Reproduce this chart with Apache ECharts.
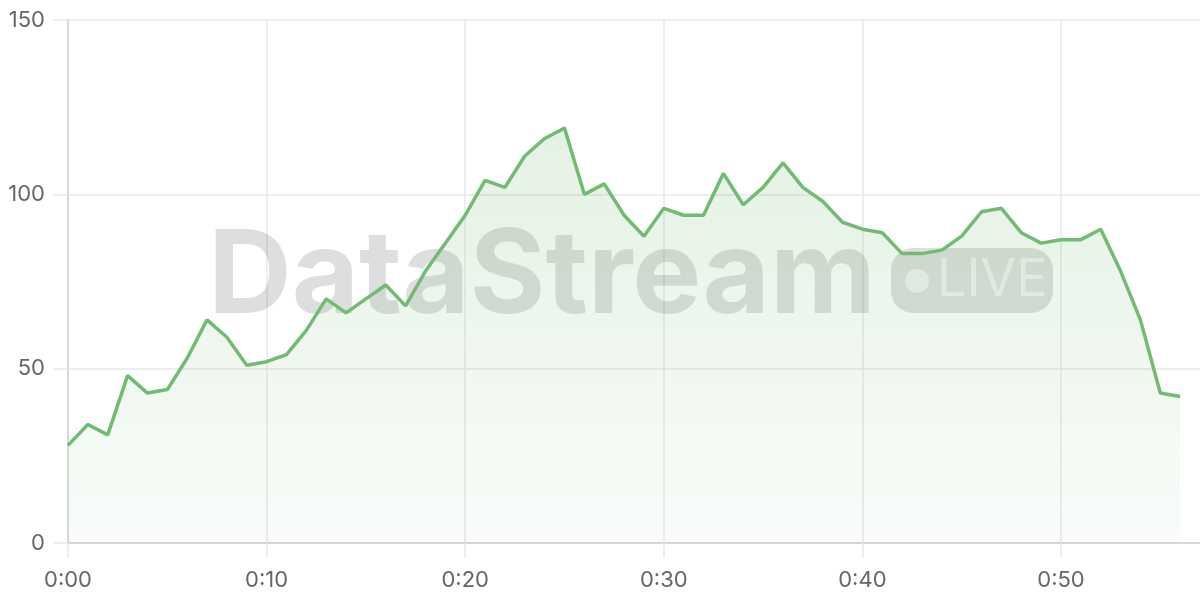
<!DOCTYPE html>
<html>
<head>
<meta charset="utf-8">
<script src="https://cdn.jsdelivr.net/npm/echarts@6/dist/echarts.min.js"></script>
<style>
html,body{margin:0;padding:0;background:#fff;}
#chart{width:1200px;height:600px;}
</style>
</head>
<body>
<div id="chart"></div>
<script>
var minutes = [];
for (var i = 0; i <= 56; i++) { minutes.push(i); }
var values = [28, 34, 31, 48, 43, 44, 53, 64, 59, 51,
              52, 54, 61, 70, 66, 70, 74, 68, 78, 86,
              94, 104, 102, 111, 116, 119, 100, 103, 94, 88,
              96, 94, 94, 106, 97, 102, 109, 102, 98, 92,
              90, 89, 83, 83, 84, 88, 95, 96, 89, 86,
              87, 87, 90, 78, 64, 43, 42];
var xTicks = [0, 10, 20, 30, 40, 50];
var xMax = 57;
var yTicks = [0, 50, 100, 150];
var watermarkMain = 'DataStream';
var watermarkBadge = 'LIVE';

var points = minutes.map(function (m, k) { return [m, values[k]]; });
var chart = echarts.init(document.getElementById('chart'), null, {renderer: 'canvas'});
var gridColor = '#e9e9e9';
var font = 'Inter, "Noto Sans", sans-serif';
chart.setOption({
  animation: false,
  grid: {left: 68, right: 0, top: 20, bottom: 57, containLabel: false},
  xAxis: {
    type: 'value',
    min: 0,
    max: xMax,
    interval: 10,
    axisLine: {show: true, onZero: false, lineStyle: {color: '#d0d0d0', width: 1.5}},
    axisTick: {show: true, customValues: xTicks, length: 15, lineStyle: {color: gridColor, width: 1.5}},
    axisLabel: {customValues: xTicks, margin: 26, color: '#666', fontSize: 22, fontFamily: font,
      formatter: function (v) { return '0:' + (v < 10 ? '0' + v : '' + v); }},
    splitLine: {show: true, lineStyle: {color: gridColor, width: 1.5}}
  },
  yAxis: {
    type: 'value',
    min: yTicks[0],
    max: yTicks[yTicks.length - 1],
    interval: yTicks[1] - yTicks[0],
    axisLine: {show: true, lineStyle: {color: '#d0d0d0', width: 1.5}},
    axisTick: {show: true, length: 15, lineStyle: {color: gridColor, width: 1.5}},
    axisLabel: {margin: 23, color: '#666', fontSize: 22, fontFamily: font},
    splitLine: {show: true, lineStyle: {color: gridColor, width: 1.5}}
  },
  graphic: [
    {
      type: 'text', z: 1, left: 208, top: 220,
      style: {text: watermarkMain, fontSize: 116, fontWeight: 700, fontFamily: font, fill: 'rgba(0,0,0,0.13)'}
    },
    {
      type: 'rect', z: 1, shape: {x: 891, y: 248, width: 162, height: 65, r: 22},
      style: {fill: 'rgba(0,0,0,0.13)'}
    },
    {
      type: 'circle', z: 1, shape: {cx: 917, cy: 281, r: 12},
      style: {fill: 'rgba(255,255,255,0.55)'}
    },
    {
      type: 'text', z: 1, left: 937, top: 254,
      style: {text: watermarkBadge, fontSize: 52, fontWeight: 400, fontFamily: font, fill: 'rgba(255,255,255,0.55)'}
    }
  ],
  series: [{
    type: 'line',
    data: points,
    showSymbol: false,
    symbol: 'none',
    lineStyle: {color: '#72bb73', width: 3.5},
    areaStyle: {
      color: new echarts.graphic.LinearGradient(0, 0, 0, 1, [
        {offset: 0, color: 'rgba(114,187,115,0.28)'},
        {offset: 1, color: 'rgba(114,187,115,0.06)'}
      ])
    }
  }]
});
</script>
</body>
</html>
